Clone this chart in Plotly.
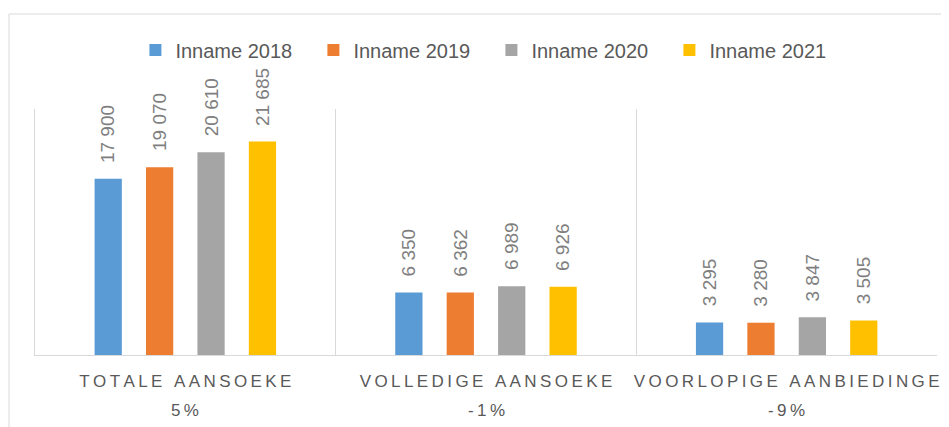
import plotly.graph_objects as go

categories = ["TOTALE AANSOEKE", "VOLLEDIGE AANSOEKE", "VOORLOPIGE AANBIEDINGE"]
change_labels = ["5%", "-1%", "-9%"]
series_names = ["Inname 2018", "Inname 2019", "Inname 2020", "Inname 2021"]
inname_2018 = [17900, 6350, 3295]
inname_2019 = [19070, 6362, 3280]
inname_2020 = [20610, 6989, 3847]
inname_2021 = [21685, 6926, 3505]
colors = ["#5B9BD5", "#ED7D31", "#A5A5A5", "#FFC000"]

series_values = [inname_2018, inname_2019, inname_2020, inname_2021]

# page body adds an 8px margin, so the figure is offset accordingly
W, H = 941, 419
ML, MR, MT, MB = 27, 12, 101, 72
BARGAP = 0.316
BARGROUPGAP = 0.47
plot_w = W - ML - MR
plot_h = H - MT - MB


def spaced(s):
    return "\u2009".join(list(s))


def fmt(v):
    return f"{v:,}".replace(",", " ")


fig = go.Figure()
for name, vals, col in zip(series_names, series_values, colors):
    fig.add_trace(go.Bar(
        name=name, x=categories, y=vals, marker_color=col,
        marker_line_width=0, hoverinfo="skip",
    ))

# data labels
cat_w = plot_w / len(categories)
slot = cat_w * (1 - BARGAP) / len(series_names)
annotations = []
for i, vals in enumerate(series_values):
    off = (i - (len(series_names) - 1) / 2) * slot
    for c, v in zip(categories, vals):
        annotations.append(dict(
            x=c, y=v, xref="x", yref="y", text=fmt(v), textangle=-90,
            showarrow=False, xshift=off, yshift=14, xanchor="center", yanchor="bottom",
            font=dict(family="Liberation Sans, Arial, sans-serif", size=19, color="#7F7F7F"),
        ))

for c, lab in zip(categories, change_labels):
    annotations.append(dict(
        x=c, y=0, xref="x", yref="paper", text=spaced(lab), showarrow=False,
        yshift=-55, xanchor="center", yanchor="middle",
        font=dict(family="Liberation Sans, Arial, sans-serif", size=17, color="#595959"),
    ))

fig.update_layout(
    width=W, height=H,
    margin=dict(l=ML, r=MR, t=MT, b=MB, pad=0, autoexpand=False),
    paper_bgcolor="white", plot_bgcolor="white",
    barmode="group", bargap=BARGAP, bargroupgap=BARGROUPGAP,
    showlegend=True,
    legend=dict(
        orientation="h", x=0.506, xanchor="center", y=1.24, yanchor="middle",
        font=dict(family="Liberation Sans, Arial, sans-serif", size=20, color="#595959"),
        entrywidth=133, itemwidth=30, traceorder="normal",
    ),
    annotations=annotations,
    shapes=[dict(
        type="rect", xref="paper", yref="paper",
        x0=(1 - ML) / plot_w, x1=1.2, y0=-0.6, y1=(H - MB - 6) / plot_h,
        line=dict(color="#D9D9D9", width=1), fillcolor="rgba(0,0,0,0)", layer="below",
    )],
    xaxis=dict(
        type="category", tickmode="array", tickvals=categories,
        ticktext=[spaced(c) for c in categories],
        tickson="boundaries", showgrid=True, gridcolor="#D9D9D9", gridwidth=1,
        showline=True, linecolor="#D9D9D9", linewidth=1, mirror=False,
        ticks="", ticklabelstandoff=11, tickangle=0, automargin=False,
        tickfont=dict(family="Liberation Sans, Arial, sans-serif", size=17, color="#595959"),
        fixedrange=True,
    ),
    yaxis=dict(
        range=[0, 25000], showgrid=False, showticklabels=False, zeroline=False,
        showline=True, linecolor="#D9D9D9", linewidth=1, ticks="", fixedrange=True,
        automargin=False,
    ),
)

fig.write_html("out.html")
